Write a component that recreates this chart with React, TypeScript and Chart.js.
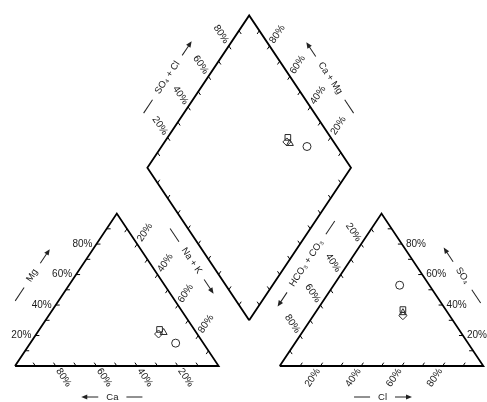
import React, { useEffect, useRef } from "react";
import { Chart, registerables } from "chart.js";

Chart.register(...registerables);

// ---------------- data ----------------
const sampleNames = ["Sample 1", "Sample 2", "Sample 3", "Sample 4"];
const sampleMarkers = ["circle", "rect", "triangle", "rectRot"];
// cations (% meq)
const caPct = [13.6, 17, 16, 19];
const mgPct = [15, 24, 22, 21];
const naKPct = [71.4, 59, 62, 60];
// anions (% meq)
const hco3Pct = [14.6, 21, 22, 23];
const clPct = [32.4, 42, 43, 44];
const so4Pct = [53, 37, 35, 33];
// tick labels
const tickValues = [20, 40, 60, 80];
const tickLabels = ["20%", "40%", "60%", "80%"];
const minorTicks = [10, 20, 30, 40, 50, 60, 70, 80, 90];

// ---------------- geometry (ternary unit space) ----------------
type P = [number, number];
const H = Math.sqrt(3) / 2;
const GAP = 0.3;
const LA: P = [0, 0]; // 100% Ca
const LB: P = [1, 0]; // 100% Na+K
const LC: P = [0.5, H]; // 100% Mg
const RA: P = [1 + GAP, 0]; // 100% HCO3+CO3
const RB: P = [2 + GAP, 0]; // 100% Cl
const RC: P = [1.5 + GAP, H]; // 100% SO4
const DB: P = [1 + GAP / 2, GAP * H];
const DL: P = [0.5 + GAP / 2, GAP * H + H];
const DR: P = [1.5 + GAP / 2, GAP * H + H];
const DT: P = [1 + GAP / 2, GAP * H + 2 * H];

const X_MIN = -0.0737;
const X_MAX = 2.318;
const Y_MIN = -0.2045;
const Y_MAX = 2.0795;

const LEFT_CENTER: P = [0.5, H / 3];
const RIGHT_CENTER: P = [1.5 + GAP, H / 3];
const DIAMOND_CENTER: P = [1 + GAP / 2, GAP * H + H];

const TEXT_COLOR = "#1a1a1a";
const LINE_COLOR = "#000";
const LABEL_FONT = "10px 'Liberation Sans', Arial, 'DejaVu Sans', sans-serif";
const TITLE_FONT = "9.5px 'Liberation Sans', Arial, 'DejaVu Sans', sans-serif";
const TICK_LEN = 4;
const LABEL_GAP = 4;

const axes = [
  { from: LA, to: LC, inward: [1, 0] as P, labels: true },
  { from: LC, to: LB, inward: [-0.5, -H] as P, labels: true },
  { from: LB, to: LA, inward: [-0.5, H] as P, labels: true },
  { from: RA, to: RB, inward: [0.5, H] as P, labels: true },
  { from: RB, to: RC, inward: [-1, 0] as P, labels: true },
  { from: RC, to: RA, inward: [0.5, -H] as P, labels: true },
  { from: DL, to: DT, inward: [0.5, -H] as P, labels: true },
  { from: DR, to: DT, inward: [-0.5, -H] as P, labels: true },
  { from: DL, to: DB, inward: [0.5, H] as P, labels: false },
  { from: DR, to: DB, inward: [-0.5, H] as P, labels: false },
];

const titles = [
  { text: "Mg", from: LA, to: LC, t: 0.463, dist: 36, center: LEFT_CENTER },
  { text: "Ca", from: LB, to: LA, t: 0.522, dist: 31, center: LEFT_CENTER },
  { text: "Na + K", from: LC, to: LB, t: 0.44, dist: 36, center: LEFT_CENTER },
  { text: "SO\u2084 + Cl", from: DL, to: DT, t: 0.47, dist: 33.5, center: DIAMOND_CENTER },
  { text: "Ca + Mg", from: DR, to: DT, t: 0.47, dist: 32.6, center: DIAMOND_CENTER },
  { text: "HCO\u2083 + CO\u2083", from: RC, to: RA, t: 0.453, dist: 34.8, center: RIGHT_CENTER },
  { text: "SO\u2084", from: RB, to: RC, t: 0.473, dist: 32.8, center: RIGHT_CENTER },
  { text: "Cl", from: RA, to: RB, t: 0.505, dist: 31, center: RIGHT_CENTER },
];

const lerp = (a: P, b: P, t: number): P => [a[0] + (b[0] - a[0]) * t, a[1] + (b[1] - a[1]) * t];

function cationPoint(i: number) {
  const s = caPct[i] + mgPct[i] + naKPct[i];
  const ca = caPct[i] / s, mg = mgPct[i] / s, nk = naKPct[i] / s;
  return { x: ca * LA[0] + nk * LB[0] + mg * LC[0], y: ca * LA[1] + nk * LB[1] + mg * LC[1] };
}
function anionPoint(i: number) {
  const s = hco3Pct[i] + clPct[i] + so4Pct[i];
  const hc = hco3Pct[i] / s, cl = clPct[i] / s, so = so4Pct[i] / s;
  return { x: hc * RA[0] + cl * RB[0] + so * RC[0], y: hc * RA[1] + cl * RB[1] + so * RC[1] };
}
function diamondPoint(i: number) {
  const sc = caPct[i] + mgPct[i] + naKPct[i];
  const sa = hco3Pct[i] + clPct[i] + so4Pct[i];
  const c = (caPct[i] + mgPct[i]) / sc;
  const a = (clPct[i] + so4Pct[i]) / sa;
  return {
    x: DB[0] + c * (DL[0] - DB[0]) + a * (DR[0] - DB[0]),
    y: DB[1] + c * (DL[1] - DB[1]) + a * (DR[1] - DB[1]),
  };
}

const poly = (pts: P[]) => pts.map((p) => ({ x: p[0], y: p[1] }));

const decorPlugin = {
  id: "piperDecor",
  beforeDatasetsDraw(chart: any) {
    const ctx = chart.ctx as CanvasRenderingContext2D;
    const xs = chart.scales.x;
    const ys = chart.scales.y;
    const px = (p: P): P => [xs.getPixelForValue(p[0]), ys.getPixelForValue(p[1])];
    const unitPx = (o: P, v: P): P => {
      const a = px(o);
      const b = px([o[0] + v[0] * 0.1, o[1] + v[1] * 0.1]);
      const dx = b[0] - a[0], dy = b[1] - a[1];
      const l = Math.hypot(dx, dy);
      return [dx / l, dy / l];
    };
    ctx.save();
    ctx.strokeStyle = LINE_COLOR;
    ctx.fillStyle = TEXT_COLOR;
    ctx.lineWidth = 1;
    for (const e of axes) {
      const dir = unitPx(e.from, e.inward);
      for (const v of minorTicks) {
        const p = px(lerp(e.from, e.to, v / 100));
        ctx.beginPath();
        ctx.moveTo(p[0], p[1]);
        ctx.lineTo(p[0] + dir[0] * TICK_LEN, p[1] + dir[1] * TICK_LEN);
        ctx.stroke();
      }
      if (!e.labels) continue;
      ctx.font = LABEL_FONT;
      ctx.textAlign = "center";
      ctx.textBaseline = "middle";
      const out: P = [-dir[0], -dir[1]];
      let ang = Math.atan2(out[1], out[0]);
      if (ang > Math.PI / 2 + 1e-6) ang -= Math.PI;
      else if (ang <= -Math.PI / 2 - 1e-6) ang += Math.PI;
      tickValues.forEach((v, i) => {
        const p = px(lerp(e.from, e.to, v / 100));
        const w = ctx.measureText(tickLabels[i]).width;
        const d = LABEL_GAP + w / 2;
        ctx.save();
        ctx.translate(p[0] + out[0] * d, p[1] + out[1] * d);
        ctx.rotate(ang);
        ctx.fillText(tickLabels[i], 0, 0);
        ctx.restore();
      });
    }
    // titles with dash and arrow
    for (const t of titles) {
      const a = px(t.from), b = px(t.to);
      let ex = b[0] - a[0], ey = b[1] - a[1];
      const L = Math.hypot(ex, ey);
      ex /= L; ey /= L;
      const base: P = [a[0] + ex * L * t.t, a[1] + ey * L * t.t];
      let nx = -ey, ny = ex;
      const c = px(t.center);
      if ((base[0] - c[0]) * nx + (base[1] - c[1]) * ny < 0) { nx = -nx; ny = -ny; }
      const cx = base[0] + nx * t.dist, cy = base[1] + ny * t.dist;
      let rx = ex, ry = ey;
      if (rx < -1e-6) { rx = -rx; ry = -ry; }
      const ang = Math.atan2(ry, rx);
      const s = rx * ex + ry * ey > 0 ? 1 : -1;
      ctx.save();
      ctx.translate(cx, cy);
      ctx.rotate(ang);
      ctx.font = TITLE_FONT;
      ctx.textAlign = "center";
      ctx.textBaseline = "middle";
      const w = ctx.measureText(t.text).width;
      ctx.fillText(t.text, 0, 0);
      const n0 = w / 2 + 8, n1 = n0 + 16;
      ctx.lineWidth = 1;
      ctx.strokeStyle = "#222";
      ctx.beginPath();
      ctx.moveTo(-s * n0, 0);
      ctx.lineTo(-s * n1, 0);
      ctx.stroke();
      ctx.beginPath();
      ctx.moveTo(s * n0, 0);
      ctx.lineTo(s * (n1 - 4), 0);
      ctx.stroke();
      ctx.fillStyle = "#222";
      ctx.beginPath();
      ctx.moveTo(s * (n1 + 1), 0);
      ctx.lineTo(s * (n1 - 5), -2.6);
      ctx.lineTo(s * (n1 - 5), 2.6);
      ctx.closePath();
      ctx.fill();
      ctx.restore();
      ctx.fillStyle = TEXT_COLOR;
    }
    ctx.restore();
  },
};

export default function App() {
  const ref = useRef<HTMLCanvasElement | null>(null);
  useEffect(() => {
    const canvas = ref.current;
    if (!canvas) return;
    const frameStyle = {
      showLine: true,
      pointRadius: 0,
      pointHoverRadius: 0,
      borderColor: LINE_COLOR,
      borderWidth: 1.8,
      fill: false,
      tension: 0,
      borderJoinStyle: "miter",
      order: 10,
    };
    const sampleSets = sampleNames.map((name, i) => ({
      label: name,
      data: [cationPoint(i), diamondPoint(i), anionPoint(i)],
      showLine: false,
      pointStyle: sampleMarkers[i],
      pointRadius: 4,
      pointHoverRadius: 4,
      pointBorderWidth: 1,
      pointBorderColor: "#2a2a2a",
      pointBackgroundColor: "rgba(0,0,0,0)",
      order: 1,
    }));
    const chart = new Chart(canvas, {
      type: "scatter",
      data: {
        datasets: [
          { label: "cations", data: poly([LA, LB, LC, LA]), ...frameStyle },
          { label: "anions", data: poly([RA, RB, RC, RA]), ...frameStyle },
          { label: "diamond", data: poly([DB, DR, DT, DL, DB]), ...frameStyle },
          ...sampleSets,
        ] as any,
      },
      options: {
        animation: false,
        responsive: false,
        devicePixelRatio: 1,
        events: [],
        layout: { padding: 0, autoPadding: false },
        plugins: { legend: { display: false }, tooltip: { enabled: false } },
        scales: {
          x: { type: "linear", min: X_MIN, max: X_MAX, display: false },
          y: { type: "linear", min: Y_MIN, max: Y_MAX, display: false },
        },
      } as any,
      plugins: [decorPlugin],
    });
    return () => chart.destroy();
  }, []);
  return (
    <div style={{ position: "fixed", left: 0, top: 0, width: 487, height: 402, background: "#fff" }}>
      <canvas ref={ref} width={487} height={402} style={{ display: "block", width: 487, height: 402 }} />
    </div>
  );
}
